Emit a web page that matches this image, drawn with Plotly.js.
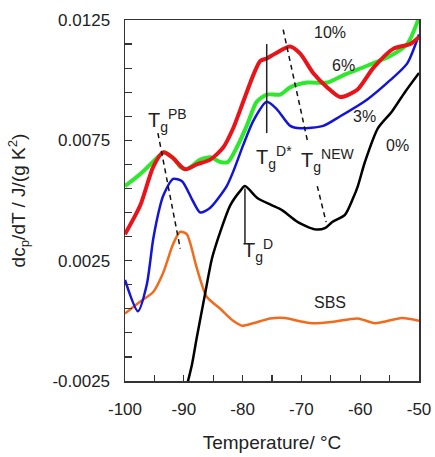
<!DOCTYPE html>
<html>
<head>
<meta charset="utf-8">
<script src="https://cdn.plot.ly/plotly-3.0.1.min.js"></script>
<style>html,body{margin:0;padding:0;background:#fff;}#chart{width:435px;height:457px;}</style>
</head>
<body>
<div id="chart"></div>
<script>
// SBS (orange)
const xSBS = [-100, -97.4, -95.2, -93.5, -91.8, -90.6, -89.5, -87.8, -86.1, -83.8, -81.6, -80.1, -78.2, -75.3, -72.8, -70.6, -68.2, -64.8, -60.4, -57.5, -52.9, -50];
const ySBS = [0.0003, 0.0008, 0.0012, 0.0020, 0.0032, 0.0037, 0.0036, 0.0022, 0.0010, 0.0005, 0.0000, -0.0002, -0.0001, 0.0001, 0.00012, 0.0000, -0.0001, -0.00005, 0.0001, -0.0001, 0.00012, 0.0];
// 0% (black)
const x0 = [-89.8, -88.6, -87.8, -86.4, -85.2, -83.8, -82.1, -80.4, -79.6, -77.5, -75.0, -73.3, -70.6, -67.7, -66.0, -64.8, -62.6, -61.2, -60.4, -59.2, -57.0, -54.6, -52.4, -50];
const y0 = [-0.0030, -0.0018, -0.0007, 0.0011, 0.0026, 0.0037, 0.0048, 0.0054, 0.0056, 0.0051, 0.0048, 0.0046, 0.0041, 0.0038, 0.00385, 0.0041, 0.0044, 0.0051, 0.0056, 0.0066, 0.0080, 0.0087, 0.0095, 0.0103];
// 3% (blue)
const x3 = [-100, -97.8, -96.3, -95.2, -94.0, -93.5, -91.8, -90.3, -88.5, -87.2, -85.5, -82.7, -81.6, -79.9, -78.2, -75.9, -74.2, -71.9, -70.2, -66.3, -63.4, -58.8, -54.9, -52.0, -50];
const y3 = [0.0017, 0.0004, 0.0015, 0.0034, 0.0048, 0.0052, 0.0059, 0.0058, 0.0050, 0.0045, 0.0047, 0.0056, 0.0062, 0.0073, 0.0083, 0.0091, 0.0088, 0.0081, 0.0080, 0.0081, 0.0085, 0.0092, 0.0100, 0.0107, 0.0119];
// 6% (green)
const x6 = [-100, -97.4, -94.0, -93.3, -91.5, -90.6, -89.5, -87.2, -85.5, -83.8, -82.5, -81.0, -79.3, -77.6, -75.9, -73.6, -71.9, -69.0, -65.6, -62.9, -58.8, -54.9, -52.0, -50];
const y6 = [0.0056, 0.0061, 0.0069, 0.0070, 0.0067, 0.0064, 0.0063, 0.0067, 0.0068, 0.0066, 0.0066, 0.0072, 0.0081, 0.0091, 0.0094, 0.0094, 0.0097, 0.0099, 0.0099, 0.0102, 0.0106, 0.0110, 0.0115, 0.0126];
// 10% (red)
const x10 = [-100, -97.4, -95.2, -93.5, -92.0, -89.8, -87.8, -85.5, -83.3, -81.6, -79.9, -78.2, -77.0, -75.9, -74.5, -71.9, -70.2, -68.0, -65.6, -63.4, -60.5, -57.8, -54.4, -51.5, -50];
const y10 = [0.0036, 0.0048, 0.0064, 0.0070, 0.0068, 0.0063, 0.0065, 0.0067, 0.0072, 0.0080, 0.0091, 0.0102, 0.0108, 0.0109, 0.0111, 0.0114, 0.0111, 0.0103, 0.0097, 0.0093, 0.0096, 0.0105, 0.0113, 0.0115, 0.0118];
// guide lines
const xTgPB = [-94.4, -90.6], yTgPB = [0.0078, 0.0030];
const xTgDs = [-75.9, -75.9], yTgDs = [0.0115, 0.0078];
const xTgNEW = [-73.1, -68.9, null, -67.3, -65.8], yTgNEW = [0.0121, 0.0074, null, 0.0056, 0.0041];
const xTgD = [-79.6, -79.6], yTgD = [0.0055, 0.0032];
// ticks
const xTickVals = [-100, -90, -80, -70, -60, -50];
const xTickText = ['-100', '-90', '-80', '-70', '-60', '-50'];
const yTickVals = [-0.0025, 0.0025, 0.0075, 0.0125];
const yTickText = ['-0.0025', '0.0025', '0.0075', '0.0125'];

const FONT = 'Liberation Sans, Arial, Helvetica, sans-serif';
function line(x, y, color, width, dash) {
  return {x: x, y: y, type: 'scatter', mode: 'lines', hoverinfo: 'skip',
    line: {color: color, width: width, dash: dash || 'solid', shape: dash ? 'linear' : 'spline', smoothing: 0.7}};
}
const traces = [
  line(xSBS, ySBS, '#f26b1d', 2.5),
  line(x0, y0, '#000000', 2.5),
  line(x3, y3, '#1414d8', 2.5),
  line(x6, y6, '#2ee82e', 4),
  line(x10, y10, '#e8141a', 4),
  line(xTgPB, yTgPB, '#111', 1.5, '5px,4px'),
  line(xTgNEW, yTgNEW, '#111', 1.5, '5px,4px'),
  line(xTgDs, yTgDs, '#222', 1.5),
  line(xTgD, yTgD, '#222', 1.5)
];
function ann(x, y, text, size) {
  return {x: x, y: y, xref: 'x', yref: 'y', text: text, showarrow: false,
    font: {family: FONT, size: size, color: '#222'}};
}
const layout = {
  width: 435, height: 457,
  margin: {l: 125, r: 16, t: 20, b: 76},
  paper_bgcolor: '#fff', plot_bgcolor: '#fff',
  showlegend: false,
  font: {family: FONT, size: 17, color: '#222'},
  xaxis: {
    range: [-100, -50], showgrid: false, zeroline: false,
    showline: true, mirror: true, linecolor: '#333', linewidth: 1.5,
    tickvals: xTickVals, ticktext: xTickText, ticks: 'inside', ticklen: 6, tickcolor: '#333', tickwidth: 1.2,
    minor: {dtick: 5, tick0: -100, ticks: 'inside', ticklen: 6, tickcolor: '#333', tickwidth: 1.2},
    ticklabelstandoff: 12,
    tickfont: {family: FONT, size: 17, color: '#222'},
    title: {text: 'Temperature/ °C', font: {family: FONT, size: 19, color: '#222'}, standoff: 18}
  },
  yaxis: {
    range: [-0.0025, 0.0125], showgrid: false, zeroline: false,
    showline: true, mirror: true, linecolor: '#333', linewidth: 1.5,
    tickvals: yTickVals, ticktext: yTickText, ticks: 'inside', ticklen: 7, tickcolor: '#333', tickwidth: 1.2,
    minor: {dtick: 0.001, tick0: -0.0025, ticks: 'inside', ticklen: 7, tickcolor: '#333', tickwidth: 1.2},
    ticklabelstandoff: 10,
    tickfont: {family: FONT, size: 17, color: '#222'},
    title: {text: 'dc<sub>p</sub>/dT / J/(g K<sup>2</sup>)', font: {family: FONT, size: 19, color: '#222'}, standoff: 22}
  },
  annotations: [
    ann(-92.7, 0.00834, 'T<sub>g</sub><sup>PB</sup>', 20),
    ann(-74.7, 0.00677, 'T<sub>g</sub><sup>D*</sup>', 20),
    ann(-65.6, 0.00668, 'T<sub>g</sub><sup>NEW</sup>', 20),
    ann(-77.4, 0.00294, 'T<sub>g</sub><sup>D</sup>', 20),
    ann(-65.1, 0.0120, '10%', 16),
    ann(-62.9, 0.0106, '6%', 16),
    ann(-59.2, 0.0085, '3%', 16),
    ann(-53.7, 0.0073, '0%', 16),
    ann(-65.1, 0.00078, 'SBS', 16)
  ]
};
Plotly.newPlot('chart', traces, layout, {displayModeBar: false, staticPlot: true});
</script>
</body>
</html>
